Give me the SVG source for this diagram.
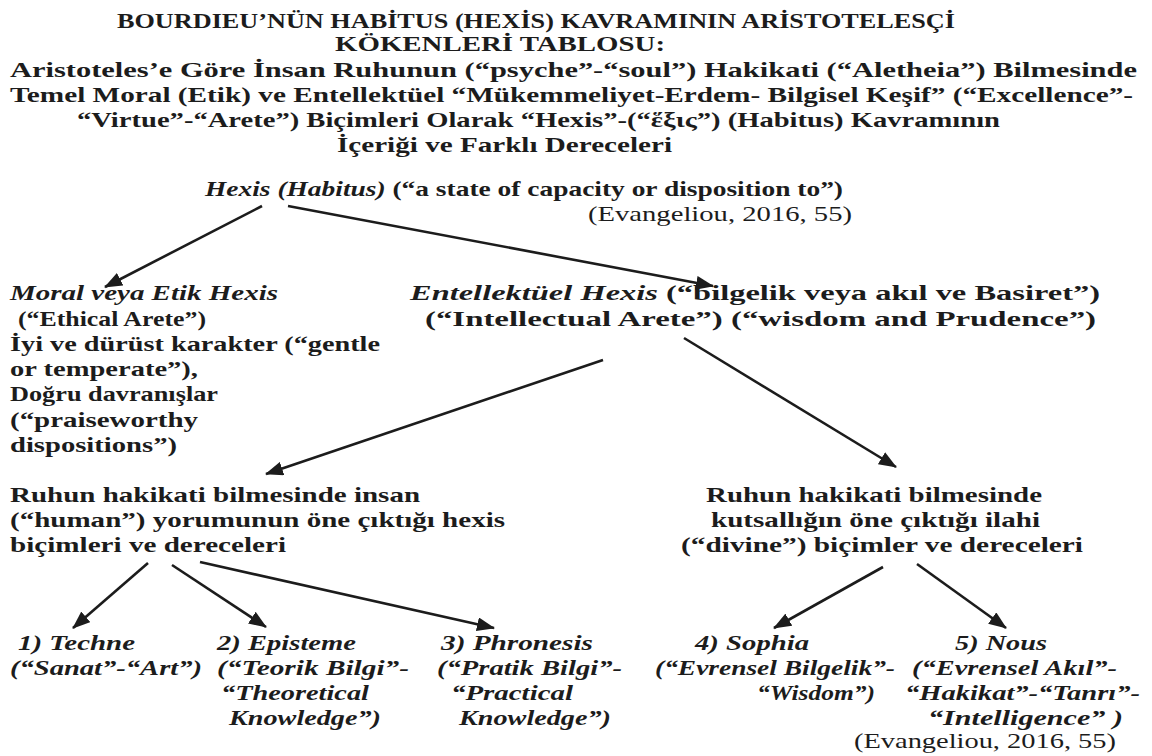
<svg xmlns="http://www.w3.org/2000/svg" width="1152" height="756" viewBox="0 0 1152 756">
<style>
text{fill:#1c1c1c;font-family:Liberation Serif, DejaVu Serif, serif}
.t{font-size:22px;font-weight:bold}
.b{font-size:21px;font-weight:bold}
.bi{font-size:21px;font-weight:bold;font-style:italic}
.r{font-size:21px;font-weight:normal}
.i{font-style:italic}
.c line{stroke:#1c1c1c;stroke-width:2.6;marker-end:url(#ah)}
</style>
<defs>
<marker id="ah" viewBox="0 0 18 14" refX="17" refY="7" markerWidth="18" markerHeight="14" markerUnits="userSpaceOnUse" orient="auto">
<path d="M0,0 L18,7 L0,14 z" fill="#1c1c1c"/>
</marker>
</defs>
<rect width="1152" height="756" fill="#ffffff"/>
<g id="title" font-family="Liberation Serif, serif">
<text class="t" x="117" y="28" textLength="838" lengthAdjust="spacingAndGlyphs">BOURDIEU’NÜN HABİTUS (HEXİS) KAVRAMININ ARİSTOTELESÇİ</text>
<text class="t" x="335" y="51" textLength="330" lengthAdjust="spacingAndGlyphs">KÖKENLERİ TABLOSU:</text>
<text class="t" x="10" y="77" textLength="1127" lengthAdjust="spacingAndGlyphs">Aristoteles’e Göre İnsan Ruhunun (“psyche”-“soul”) Hakikati (“Aletheia”) Bilmesinde</text>
<text class="t" x="10" y="102" textLength="1123" lengthAdjust="spacingAndGlyphs">Temel Moral (Etik) ve Entellektüel “Mükemmeliyet-Erdem- Bilgisel Keşif” (“Excellence”-</text>
<text class="t" x="77" y="127" textLength="923" lengthAdjust="spacingAndGlyphs">“Virtue”-“Arete”) Biçimleri Olarak “Hexis”-(“ἕξις”) (Habitus) Kavramının</text>
<text class="t" x="337" y="152" textLength="335" lengthAdjust="spacingAndGlyphs">İçeriği ve Farklı Dereceleri</text>
</g>
<g class="c" id="connectors">
<line x1="262" y1="206" x2="105" y2="287"/>
<line x1="288" y1="206" x2="713" y2="286"/>
<line x1="603" y1="360" x2="266" y2="474"/>
<line x1="684" y1="338" x2="896" y2="467"/>
<line x1="148" y1="563" x2="73" y2="628"/>
<line x1="172" y1="565" x2="266" y2="627"/>
<line x1="200" y1="562" x2="494" y2="628"/>
<line x1="883" y1="567" x2="774" y2="628"/>
<line x1="917" y1="564" x2="1006" y2="628"/>
</g>
<g id="hexis">
<text class="b" x="205" y="196" textLength="638" lengthAdjust="spacingAndGlyphs"><tspan class="i">Hexis (Habitus)</tspan> (“a state of capacity or disposition to”)</text>
<text class="r" x="588" y="221" textLength="264" lengthAdjust="spacingAndGlyphs">(Evangeliou, 2016, 55)</text>
</g>
<g id="moral">
<text class="bi" x="10" y="300" textLength="268" lengthAdjust="spacingAndGlyphs">Moral veya Etik Hexis</text>
<text class="b" x="18" y="326" textLength="188" lengthAdjust="spacingAndGlyphs">(“Ethical Arete”)</text>
<text class="b" x="10" y="351" textLength="370" lengthAdjust="spacingAndGlyphs">İyi ve dürüst karakter (“gentle</text>
<text class="b" x="10" y="376" textLength="188" lengthAdjust="spacingAndGlyphs">or temperate”),</text>
<text class="b" x="10" y="401" textLength="208" lengthAdjust="spacingAndGlyphs">Doğru davranışlar</text>
<text class="b" x="10" y="427" textLength="188" lengthAdjust="spacingAndGlyphs">(“praiseworthy</text>
<text class="b" x="10" y="452" textLength="167" lengthAdjust="spacingAndGlyphs">dispositions”)</text>
</g>
<g id="intellectual">
<text class="b" x="410" y="300" textLength="690" lengthAdjust="spacingAndGlyphs"><tspan class="i">Entellektüel Hexis</tspan> (“bilgelik veya akıl ve Basiret”)</text>
<text class="b" x="425" y="326" textLength="671" lengthAdjust="spacingAndGlyphs">(“Intellectual Arete”) (“wisdom and Prudence”)</text>
</g>
<g id="human">
<text class="b" x="10" y="502" textLength="410" lengthAdjust="spacingAndGlyphs">Ruhun hakikati bilmesinde insan</text>
<text class="b" x="10" y="527" textLength="495" lengthAdjust="spacingAndGlyphs">(“human”) yorumunun öne çıktığı hexis</text>
<text class="b" x="10" y="552" textLength="276" lengthAdjust="spacingAndGlyphs">biçimleri ve dereceleri</text>
</g>
<g id="divine">
<text class="b" x="706" y="502" textLength="336" lengthAdjust="spacingAndGlyphs">Ruhun hakikati bilmesinde</text>
<text class="b" x="711" y="527" textLength="329" lengthAdjust="spacingAndGlyphs">kutsallığın öne çıktığı ilahi</text>
<text class="b" x="681" y="552" textLength="402" lengthAdjust="spacingAndGlyphs">(“divine”) biçimler ve dereceleri</text>
</g>
<g id="techne">
<text class="bi" x="18" y="650" textLength="117" lengthAdjust="spacingAndGlyphs">1) Techne</text>
<text class="bi" x="10" y="675" textLength="192" lengthAdjust="spacingAndGlyphs">(“Sanat”-“Art”)</text>
</g>
<g id="episteme">
<text class="bi" x="217" y="650" textLength="139" lengthAdjust="spacingAndGlyphs">2) Episteme</text>
<text class="bi" x="217" y="675" textLength="192" lengthAdjust="spacingAndGlyphs">(“Teorik Bilgi”-</text>
<text class="bi" x="221" y="700" textLength="148" lengthAdjust="spacingAndGlyphs">“Theoretical</text>
<text class="bi" x="229" y="725" textLength="152" lengthAdjust="spacingAndGlyphs">Knowledge”)</text>
</g>
<g id="phronesis">
<text class="bi" x="441" y="650" textLength="152" lengthAdjust="spacingAndGlyphs">3) Phronesis</text>
<text class="bi" x="437" y="675" textLength="185" lengthAdjust="spacingAndGlyphs">(“Pratik Bilgi”-</text>
<text class="bi" x="451" y="700" textLength="122" lengthAdjust="spacingAndGlyphs">“Practical</text>
<text class="bi" x="459" y="725" textLength="152" lengthAdjust="spacingAndGlyphs">Knowledge”)</text>
</g>
<g id="sophia">
<text class="bi" x="695" y="650" textLength="114" lengthAdjust="spacingAndGlyphs">4) Sophia</text>
<text class="bi" x="655" y="675" textLength="240" lengthAdjust="spacingAndGlyphs">(“Evrensel Bilgelik”-</text>
<text class="bi" x="757" y="700" textLength="118" lengthAdjust="spacingAndGlyphs">“Wisdom”)</text>
</g>
<g id="nous">
<text class="bi" x="955" y="650" textLength="92" lengthAdjust="spacingAndGlyphs">5) Nous</text>
<text class="bi" x="912" y="675" textLength="205" lengthAdjust="spacingAndGlyphs">(“Evrensel Akıl”-</text>
<text class="bi" x="905" y="700" textLength="235" lengthAdjust="spacingAndGlyphs">“Hakikat”-“Tanrı”-</text>
<text class="bi" x="928" y="725" textLength="195" lengthAdjust="spacingAndGlyphs">“Intelligence” )</text>
<text class="r" x="854" y="748" textLength="262" lengthAdjust="spacingAndGlyphs">(Evangeliou, 2016, 55)</text>
</g>
</svg>
